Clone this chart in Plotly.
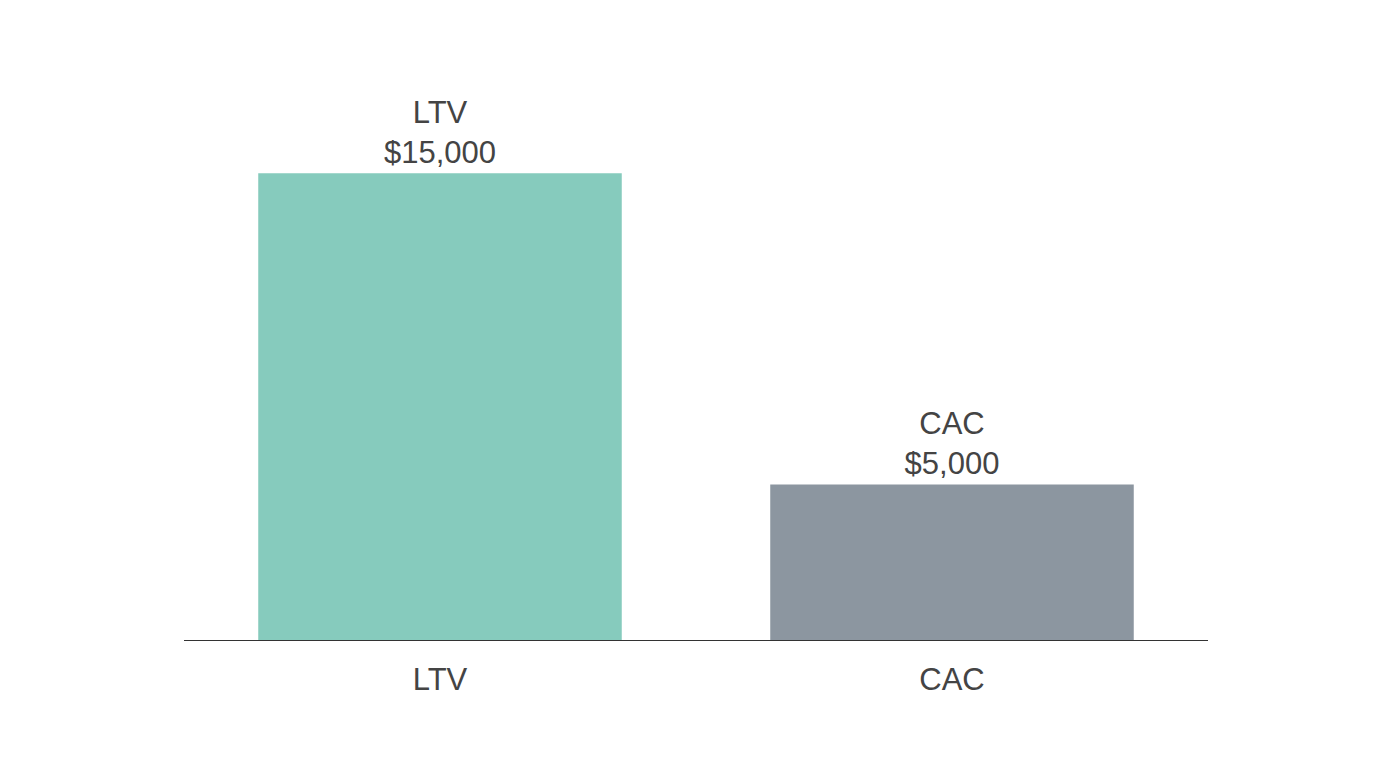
import plotly.graph_objects as go

categories = ["LTV", "CAC"]
values = [15000, 5000]
labels = ["LTV<br>$15,000", "CAC<br>$5,000"]
colors = ["#86CBBD", "#8C96A0"]

fig = go.Figure(go.Bar(
    x=categories, y=values, text=labels, textposition="outside",
    marker=dict(color=colors, line=dict(width=0)),
    textfont=dict(size=31, color="#444444"), cliponaxis=False, width=0.71,
))
fig.update_layout(
    width=1376, height=768, paper_bgcolor="white", plot_bgcolor="white",
    margin=dict(l=176, r=176, t=72, b=136),
    font=dict(family="Liberation Sans, Arial, sans-serif", color="#444444"),
    showlegend=False,
    xaxis=dict(showline=True, linecolor="#333333", linewidth=1.2, ticks="",
               tickfont=dict(size=31, color="#444444"), ticklabelstandoff=12),
    yaxis=dict(range=[0, 18000], visible=False, showgrid=False),
)
fig.write_html("out.html")
